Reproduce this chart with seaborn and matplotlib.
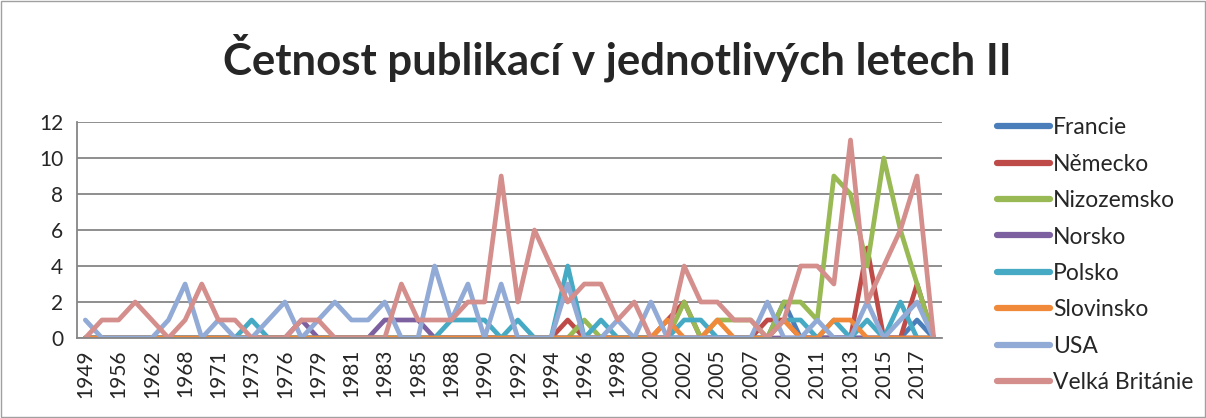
import pandas as pd
import matplotlib.pyplot as plt
import seaborn as sns
from matplotlib.patches import Rectangle

years = [1949, 1953, 1956, 1960, 1962, 1965, 1968, 1970, 1971, 1972, 1973, 1975, 1976,
         1978, 1979, 1980, 1981, 1982, 1983, 1984, 1985, 1987, 1988, 1989, 1990, 1991,
         1992, 1993, 1994, 1995, 1996, 1997, 1998, 1999, 2000, 2001, 2002, 2004, 2005,
         2006, 2007, 2008, 2009, 2010, 2011, 2012, 2013, 2014, 2015, 2016, 2017, 2018]

francie =     [0,0,0,0,0,0,0,0,0,0, 0,0,0,0,0,0,0,0,0,0, 0,0,0,0,0,0,0,0,0,0,
               0,0,0,0,0,0,0,0,0,0, 0,0,2,0,0,0,0,0,0,0, 1,0]
nemecko =     [0,0,0,0,0,0,0,0,0,0, 0,0,0,0,0,0,0,0,0,0, 0,0,0,0,0,0,0,0,0,1,
               0,0,0,0,0,1,2,0,0,0, 0,1,1,0,0,0,0,5,0,0, 3,0]
nizozemsko =  [0,0,0,0,0,0,0,0,0,0, 0,0,0,0,0,0,0,0,0,0, 0,0,0,0,0,0,0,0,0,0,
               1,0,0,0,0,0,2,0,1,1, 1,0,2,2,1,9,8,4,10,6, 3,0]
norsko =      [0,0,0,0,0,0,0,0,0,0, 0,0,0,1,0,0,0,0,1,1, 1,0,0,0,0,0,0,0,0,0,
               0,0,0,0,0,0,0,0,0,0, 0,0,0,0,0,0,0,0,0,0, 0,0]
polsko =      [0,0,0,0,0,0,0,0,0,0, 1,0,0,0,0,0,0,0,0,0, 0,0,1,1,1,0,1,0,0,4,
               0,1,0,0,0,0,1,1,0,0, 0,0,1,1,0,1,0,1,0,2, 0,0]
slovinsko =   [0,0,0,0,0,0,0,0,0,0, 0,0,0,0,0,0,0,0,0,0, 0,0,0,0,0,0,0,0,0,0,
               0,0,0,0,0,1,0,0,1,0, 0,0,1,0,0,1,1,0,0,0, 0,0]
usa =         [1,0,0,0,0,1,3,0,1,0, 0,1,2,0,1,2,1,1,2,0, 0,4,1,3,0,3,0,0,0,3,
               0,0,1,0,2,0,0,0,0,0, 0,2,0,0,1,0,0,2,0,1, 2,0]
velka_britanie = [0,1,1,2,1,0,1,3,1,1, 0,0,0,1,1,0,0,0,0,3, 1,1,1,2,2,9,2,6,4,2,
                  3,3,1,2,0,0,4,2,2,1, 1,0,1,4,4,3,11,2,4,6, 9,0]

countries = ['Francie', 'Německo', 'Nizozemsko', 'Norsko', 'Polsko', 'Slovinsko',
             'USA', 'Velká Británie']
series = [francie, nemecko, nizozemsko, norsko, polsko, slovinsko, usa, velka_britanie]
colors = ['#4A7EBB', '#BE4B48', '#98B954', '#7D60A0', '#46AAC5', '#F08A3A',
          '#92AAD6', '#D48E8C']

rows = []
for name, vals in zip(countries, series):
    for y, v in zip(years, vals):
        rows.append({'rok': str(y), 'zeme': name, 'pocet': v})
df = pd.DataFrame(rows)

sns.set_style('white')
plt.rcParams['font.family'] = ['Lato', 'DejaVu Sans']

fig = plt.figure(figsize=(12.06, 4.18), dpi=100)
ax = fig.add_axes([77 / 1206, 1 - 338 / 418, (942 - 77) / 1206, (338 - 122) / 418])

sns.lineplot(data=df, x='rok', y='pocet', hue='zeme', palette=colors,
             linewidth=3.4, ax=ax, sort=False)

ax.set_xlim(-0.5, len(years) - 0.5)
ax.set_ylim(0, 12)
ax.set_yticks(range(0, 13, 2))
ax.set_xticks(range(0, len(years), 2))
ax.set_xticklabels([str(y) for y in years[::2]], rotation=90, fontsize=15)
ax.tick_params(axis='y', labelsize=15, length=4, color='#868686', pad=6)
ax.tick_params(axis='x', length=0, pad=8)
ax.grid(axis='y', color='#868686', linewidth=1.3)
ax.set_axisbelow(True)
for s in ['top', 'right']:
    ax.spines[s].set_visible(False)
for s in ['left', 'bottom']:
    ax.spines[s].set_color('#868686')
    ax.spines[s].set_linewidth(1.3)
ax.set_xlabel('')
ax.set_ylabel('')

leg = ax.legend(loc='upper left', bbox_to_anchor=(986 / 1206, 1 - 106 / 418),
                bbox_transform=fig.transFigure, frameon=False, fontsize=16.5,
                handlelength=2.3, handletextpad=0.12, labelspacing=0.67, borderpad=0)
for line in leg.get_lines():
    line.set_linewidth(4.5)
    line.set_solid_capstyle('round')

fig.text(0.512, 0.862, 'Četnost publikací v jednotlivých letech II',
         ha='center', va='center', fontsize=31.5, fontweight='bold')

fig.patches.append(Rectangle((0.001, 0.003), 0.998, 0.994, transform=fig.transFigure,
                             fill=False, edgecolor='#A0A0A0', linewidth=1))

fig.savefig('out.png', dpi=100)
